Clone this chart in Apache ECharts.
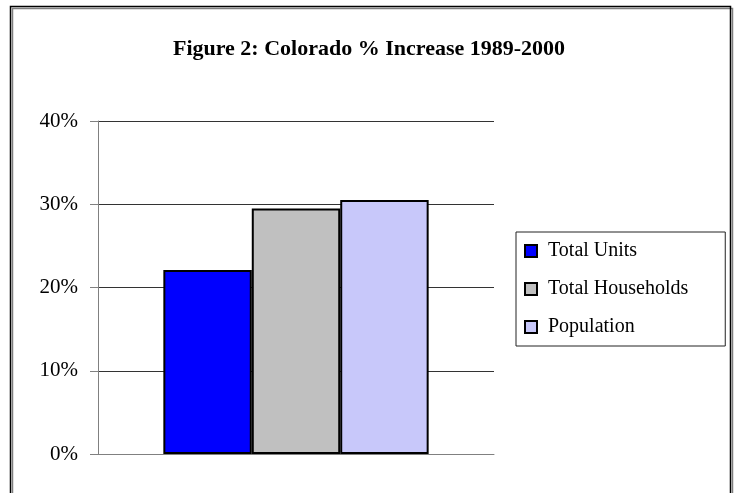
<!DOCTYPE html>
<html><head><meta charset="utf-8">
<script src="https://cdn.jsdelivr.net/npm/echarts@6/dist/echarts.min.js"></script>
<style>html,body{margin:0;padding:0;background:#fff}#c{width:738px;height:493px}</style>
</head><body><div id="c"></div>
<script>
const categories = ['Colorado'];
const seriesNames = ['Total Units', 'Total Households', 'Population'];
const totalUnits = [22.1];
const totalHouseholds = [29.5];
const population = [30.5];
const yTicks = [0, 10, 20, 30, 40];
const colors = ['#0000ff', '#c0c0c0', '#c8c8fa'];
const serif = '"Liberation Serif", "Times New Roman", serif';

const chart = echarts.init(document.getElementById('c'), null, {renderer: 'canvas'});
const values = [totalUnits, totalHouseholds, population];
chart.setOption({
  animation: false,
  backgroundColor: '#fff',
  title: {
    text: 'Figure 2: Colorado % Increase 1989-2000',
    left: 'center', top: 33,
    textStyle: {fontFamily: serif, fontSize: 22, fontWeight: 'bold', color: '#000'}
  },
  graphic: [{
    type: 'rect', shape: {x: 10.5, y: 6.5, width: 720, height: 500},
    style: {fill: 'none', stroke: '#000', lineWidth: 1.5, shadowColor: 'rgba(0,0,0,0.5)', shadowOffsetX: 2, shadowOffsetY: 2, shadowBlur: 0},
    z: -1, silent: true
  }],
  grid: {left: 98, right: 244, top: 121, bottom: 39},
  legend: {
    orient: 'vertical', left: 516, top: 232,
    data: seriesNames,
    icon: 'rect', itemWidth: 12, itemHeight: 12, itemGap: 18,
    padding: [9, 37, 9, 8],
    borderColor: '#222', borderWidth: 1,
    textStyle: {fontFamily: serif, fontSize: 20, color: '#000', padding: [0, 0, 0, 6]}
  },
  xAxis: {
    type: 'category', data: categories,
    axisLine: {lineStyle: {color: '#808080', width: 1}},
    axisTick: {show: false}, axisLabel: {show: false}
  },
  yAxis: {
    type: 'value', min: 0, max: 40, interval: 10,
    axisLine: {show: true, lineStyle: {color: '#808080', width: 1}},
    axisTick: {show: true, length: 8, lineStyle: {color: '#808080'}},
    splitLine: {lineStyle: {color: '#333', width: 1}},
    axisLabel: {
      margin: 20, fontFamily: serif, fontSize: 21, color: '#000',
      formatter: v => yTicks.includes(v) ? v + '%' : ''
    }
  },
  series: seriesNames.map((n, i) => ({
    name: n, type: 'bar', data: values[i],
    barGap: '0%', barCategoryGap: '33%',
    itemStyle: {color: colors[i], borderColor: '#000', borderWidth: 2}
  }))
});
</script></body></html>
